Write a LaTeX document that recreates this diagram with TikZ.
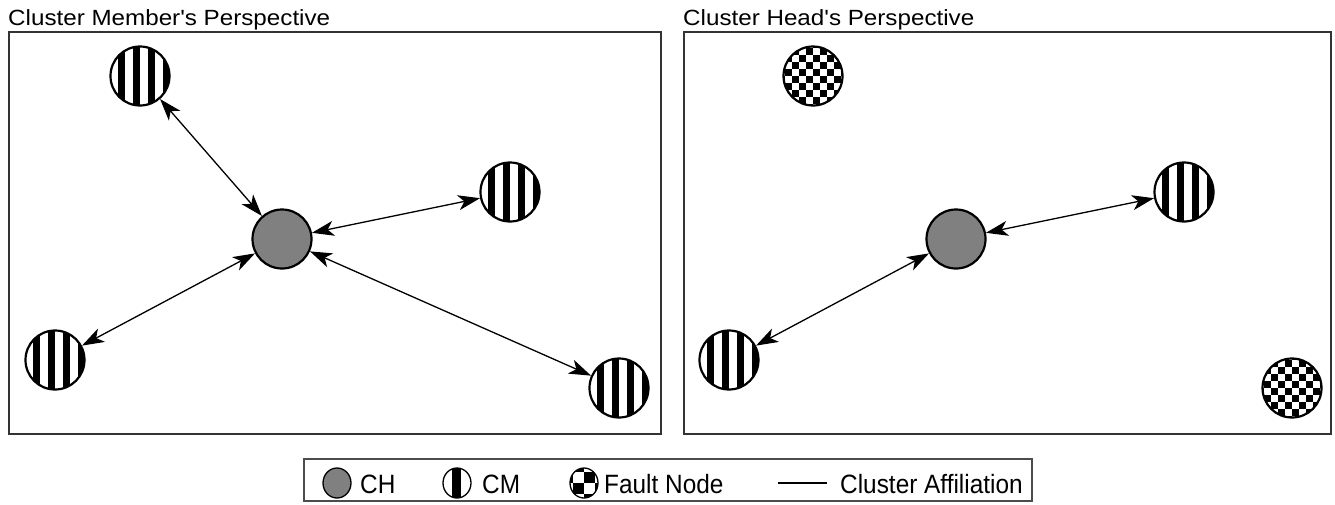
\documentclass[tikz,border=0pt]{standalone}
\usepackage{fontspec}
\setmainfont{Liberation Sans}
\newfontfamily\titlefont[FakeStretch=1.1]{Liberation Sans}
\newfontfamily\legendfont[FakeStretch=0.92]{Liberation Sans}
\usetikzlibrary{arrows.meta,shapes.geometric}
\definecolor{chgray}{RGB}{128,128,128}
\tikzset{
  chnode/.style={circle, draw, line width=2.2pt, fill=chgray, minimum size=59pt, inner sep=0pt},
  cmnode/.style={circle, draw, line width=2.2pt, fill=white, minimum size=59pt, inner sep=0pt,
    path picture={\foreach \k in {-4,...,3}
      \fill[black] ([xshift=\k*15pt, yshift=-40pt]path picture bounding box.center) rectangle ++(-7.5pt,80pt);}},
  faultnode/.style={circle, draw, line width=2.2pt, fill=white, minimum size=59pt, inner sep=0pt,
    path picture={\foreach \i in {-5,...,4} \foreach \j in {-5,...,4} {
      \pgfmathtruncatemacro\cellparity{mod(\i+\j+20,2)}
      \ifnum\cellparity=0
        \fill[black] ([xshift=\i*7pt, yshift=\j*7pt]path picture bounding box.center) rectangle ++(7pt,7pt);
      \fi}}},
  link/.style={{Stealth[length=22pt,width=15pt,inset=6pt]}-{Stealth[length=22pt,width=15pt,inset=6pt]}, line width=1.3pt},
  panel/.style={draw=black!80, line width=1.4pt},
  icon/.style={ellipse, draw, line width=1.3pt, minimum width=28pt, minimum height=30pt, inner sep=0pt},
  title/.style={anchor=base west, inner sep=0pt, font=\titlefont\fontsize{22}{24}\selectfont},
  legtext/.style={anchor=base west, inner sep=0pt, font=\legendfont\fontsize{26.5}{28}\selectfont},
}
\begin{document}
\begin{tikzpicture}[x=1pt, y=-1pt]
  \useasboundingbox (0,0) rectangle (1335,504);

  % panels
  \node[title] (t1) at (8,25) {Cluster Member's Perspective};
  \node[title] (t2) at (683,25) {Cluster Head's Perspective};
  \draw[panel] (9,32) rectangle (661,434);
  \draw[panel] (684,32) rectangle (1331,434);

  % cluster member's view
  \node[chnode] (ch) at (282,239) {};
  \node[cmnode] (m1) at (140,76) {};
  \node[cmnode] (m2) at (510,192) {};
  \node[cmnode] (m3) at (55,360) {};
  \node[cmnode] (m4) at (619,388) {};
  \draw[link] (m1) -- (ch);
  \draw[link] (ch) -- (m2);
  \draw[link] (m3) -- (ch);
  \draw[link] (ch) -- (m4);

  % cluster head's view
  \node[chnode] (ch') at (956,239) {};
  \node[faultnode] (f1) at (813,76) {};
  \node[cmnode] (m2') at (1184,192) {};
  \node[cmnode] (m3') at (729,360) {};
  \node[faultnode] (f2) at (1292,388) {};
  \draw[link] (ch') -- (m2');
  \draw[link] (m3') -- (ch');

  % legend
  \draw[draw=black!70, line width=1.2pt] (304,459) rectangle (1032,501);
  \node[icon, fill=chgray] (lch) at (337,483) {};
  \node[legtext] (tch) at (360,493) {CH};
  \node[icon, fill=white, path picture={
      \fill[black] ([xshift=-5pt, yshift=-20pt]path picture bounding box.center) rectangle ++(9pt,40pt);}]
    (lcm) at (457,483) {};
  \node[legtext] (tcm) at (482,493) {CM};
  \node[icon, fill=white, path picture={
      \foreach \i in {-2,...,1} \foreach \j in {-2,...,1} {
        \pgfmathtruncatemacro\cellparity{mod(\i+\j+20,2)}
        \ifnum\cellparity=0
          \fill[black] ([xshift=\i*11pt, yshift=\j*11pt]path picture bounding box.center) rectangle ++(11pt,11pt);
        \fi}}]
    (lf) at (584,483) {};
  \node[legtext] (tf) at (604,493) {Fault Node};
  \coordinate (la) at (778,483);
  \coordinate (lb) at (827,483);
  \draw[line width=1.2pt] (la) -- (lb);
  \node[legtext] (ta) at (840,493) {Cluster Affiliation};
\end{tikzpicture}
\end{document}
